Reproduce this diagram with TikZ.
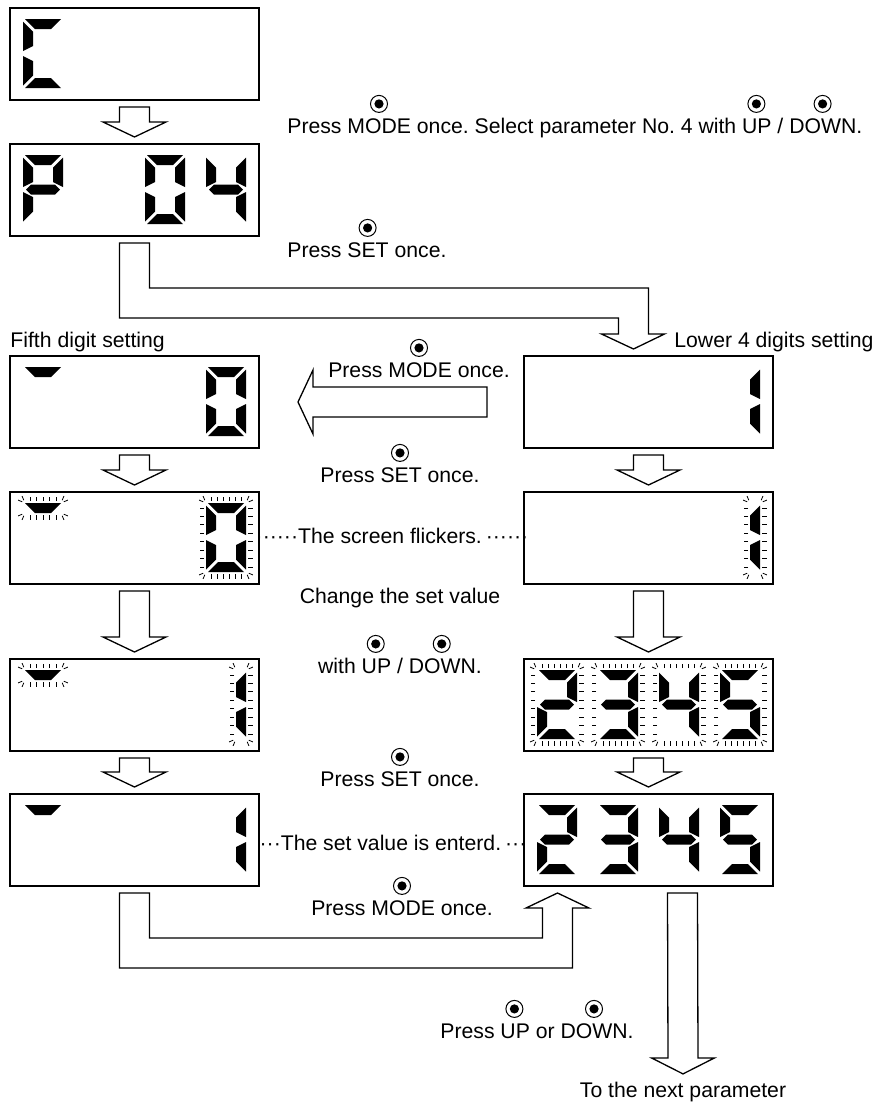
\documentclass[tikz,border=0pt]{standalone}
\usepackage{fontspec}
\setmainfont{Liberation Sans}
\usetikzlibrary{positioning, calc}
\frenchspacing

\newcommand{\sega}{(2,0) -- (38,0) -- (28,10) -- (12,10) -- cycle}
\newcommand{\segb}{(40,2.5) -- (30,12.5) -- (30,27) -- (40,32) -- cycle}
\newcommand{\segc}{(40,37) -- (30,42) -- (30,56.5) -- (40,66.5) -- cycle}
\newcommand{\segd}{(2,69) -- (38,69) -- (28,59) -- (12,59) -- cycle}
\newcommand{\sege}{(0,37) -- (10,42) -- (10,56.5) -- (0,66.5) -- cycle}
\newcommand{\segf}{(0,2.5) -- (10,12.5) -- (10,27) -- (0,32) -- cycle}
\newcommand{\segg}{(3,34.5) -- (8,29.5) -- (32,29.5) -- (37,34.5) -- (32,39.5) -- (8,39.5) -- cycle}

\newcommand{\lcddigit}[3]{%
  \begin{scope}[shift={($(#1.north west)+(13+61*#2,11)$)}]
    \foreach \s in {#3} {\expandafter\fill\csname seg\s\endcsname;}
  \end{scope}}

\newcommand{\flicker}[5]{%
  \begin{scope}[shift={($(#1.north west)+(#2,#3)$)}]
    \pgfmathtruncatemacro\nx{(#4-10)/6}
    \pgfmathtruncatemacro\ny{(#5-10)/8}
    \ifnum\nx>0
      \foreach \i in {0,...,\nx} {\pgfmathsetmacro\tx{5+(#4-10)*\i/\nx}
        \draw[tick] (\tx,-2) -- (\tx,-6.5) (\tx,#5+2) -- (\tx,#5+6.5);}
    \fi
    \ifnum\ny>0
      \foreach \j in {0,...,\ny} {\pgfmathsetmacro\ty{5+(#5-10)*\j/\ny}
        \draw[tick] (-2,\ty) -- (-6.5,\ty) (#4+2,\ty) -- (#4+6.5,\ty);}
    \fi
    \foreach \cx/\cy/\ang in {0/0/225,#4/0/315,0/#5/135,#4/#5/45}
      \foreach \da in {-22,22}
        \draw[tick] ($(\cx,\cy)+(\ang+\da:3)$) -- ($(\cx,\cy)+(\ang+\da:7.5)$);
  \end{scope}}

\newcommand{\blockdown}[2]{%
  \draw[hollow] ($(#1.south)+(-15,7)$) -- ($(#2.north)+(-15,-22)$) -- ++(-16.5,0)
    -- ($(#2.north)+(0,-7)$) -- ($(#2.north)+(31.5,-22)$) -- ++(-16.5,0)
    -- ($(#1.south)+(15,7)$) -- cycle;}

\begin{document}
\begin{tikzpicture}[x=0.5pt, y=-0.5pt, node distance=22pt,
    lcd/.style={rectangle, draw, line width=0.8pt, minimum width=124.5pt, minimum height=46pt, inner sep=0pt, outer sep=0pt},
    txt/.style={inner sep=0pt, font=\fontsize{10.6}{12.5}\selectfont, text height=7.7pt, text depth=2pt},
    btn/.style={circle, draw, line width=0.5pt, minimum size=8.5pt, inner sep=0pt, path picture={\fill (path picture bounding box.center) circle (2.3pt);}},
    hollow/.style={draw, fill=white, line width=0.65pt, line join=miter},
    tick/.style={line width=0.4pt}]

    \useasboundingbox (0,0) rectangle (878,1104);

    \node [lcd] (l1) at (134.5,54) {};
    \node [lcd, below=of l1] (l2) {};
    \node [lcd] (l3) at (134.5,402) {};
    \node [lcd, below=of l3] (l4) {};
    \node [lcd, below=37.5pt of l4] (l5) {};
    \node [lcd, below=21.5pt of l5] (l6) {};
    \node [lcd, right=132.5pt of l3] (r3) {};
    \node [lcd, right=132.5pt of l4] (r4) {};
    \node [lcd, right=132.5pt of l5] (r5) {};
    \node [lcd, right=132.5pt of l6] (r6) {};

    \lcddigit{l1}{0}{a,f,e,d}
    \lcddigit{l2}{0}{a,b,f,g,e}
    \lcddigit{l2}{2}{a,b,c,d,e,f}
    \lcddigit{l2}{3}{f,g,b,c}
    \lcddigit{l3}{0}{a}
    \lcddigit{l3}{3}{a,b,c,d,e,f}
    \lcddigit{l4}{0}{a}
    \lcddigit{l4}{3}{a,b,c,d,e,f}
    \lcddigit{l5}{0}{a}
    \lcddigit{l5}{3}{b,c}
    \lcddigit{l6}{0}{a}
    \lcddigit{l6}{3}{b,c}
    \lcddigit{r3}{3}{b,c}
    \lcddigit{r4}{3}{b,c}
    \foreach \n in {r5,r6} {
        \lcddigit{\n}{0}{a,b,g,e,d}
        \lcddigit{\n}{1}{a,b,g,c,d}
        \lcddigit{\n}{2}{f,g,b,c}
        \lcddigit{\n}{3}{a,f,g,c,d}
    }

    \flicker{l4}{15}{11}{36}{10}
    \flicker{l4}{196}{11}{40}{69}
    \flicker{r4}{226}{11}{10}{69}
    \flicker{l5}{15}{11}{36}{10}
    \flicker{l5}{226}{11}{10}{69}
    \foreach \p in {13,74,135,196} {\flicker{r5}{\p}{11}{40}{69}}

    \blockdown{l1}{l2}
    \blockdown{l3}{l4}
    \blockdown{l4}{l5}
    \blockdown{l5}{l6}
    \blockdown{r3}{r4}
    \blockdown{r4}{r5}
    \blockdown{r5}{r6}

    \draw [hollow] ($(l2.south)+(-15,7)$) |- ($(r3.north)+(-30,-38)$) -- ($(r3.north)+(-30,-22)$) -- ++(-17,0)
        -- ($(r3.north)+(-15,-7)$) -- ($(r3.north)+(16,-22)$) -- ++(-16,0) |- ($(l2.south)+(15,52)$)
        -- ($(l2.south)+(15,7)$) -- cycle;
    \draw [hollow] ($(r3.west)+(-37,-15)$) -- ($(l3.east)+(54,-15)$) -- ++(0,-17) -- ($(l3.east)+(39,0)$)
        -- ($(l3.east)+(54,32)$) -- ++(0,-17) -- ($(r3.west)+(-37,15)$) -- cycle;
    \draw [hollow] ($(l6.south)+(-15,7)$) |- ($(r6.south)+(-76,82)$) -- ($(r6.south)+(-76,22)$) -- ++(16.5,0)
        -- ($(r6.south)+(-91,7)$) -- ($(r6.south)+(-122.5,22)$) -- ++(16.5,0) |- ($(l6.south)+(15,52)$)
        -- ($(l6.south)+(15,7)$) -- cycle;

    \node [txt] (nextp) at (683,1092) {To the next parameter};
    \draw [hollow] ($(r6.south)+(19,7)$) -- ($(nextp.north)+(-15,-24)$) -- ++(-16.5,0) -- ($(nextp.north)+(0,-8)$)
        -- ($(nextp.north)+(31.5,-24)$) -- ++(-16.5,0) -- ($(r6.south)+(49,7)$) -- cycle;

    \node [txt, anchor=west] (t1) at (287,128) {Press MODE once. Select parameter No. 4 with UP / DOWN.};
    \node [txt, anchor=west] (t2) at (287,252) {Press SET once.};
    \node [txt, anchor=west] (fifth) at (10,342) {Fifth digit setting};
    \node [txt, anchor=west] (lower) at (674,342) {Lower 4 digits setting};
    \node [txt] (t3) at (419,372) {Press MODE once.};
    \node [txt] (t4) at (400,477) {Press SET once.};
    \node [txt] (flick) at (392,538) {······The screen flickers.\kern2pt······};
    \node [txt] (chg) at (400,598) {Change the set value};
    \node [txt] (with) at (400,668) {with UP / DOWN.};
    \node [txt] (t5) at (400,781) {Press SET once.};
    \node [txt] (enter) at (393,845) {···The set value is enterd.\kern2pt···};
    \node [txt] (t6) at (402,910) {Press MODE once.};
    \node [txt] (updown) at (537,1033) {Press UP or DOWN.};

    \node [btn, above=2.5pt of t1.north west, xshift=46pt] (b1) {};
    \node [btn, above=2.5pt of t1.north west, xshift=234.7pt] (b2) {};
    \node [btn, above=2.5pt of t1.north west, xshift=267.8pt] (b3) {};
    \node [btn, above=2.5pt of t2.north west, xshift=40.3pt] (b4) {};
    \node [btn, above=2.5pt of t3] (b5) {};
    \node [btn, above=2.5pt of t4] (b6) {};
    \node [btn, above=2.5pt of with.north west, xshift=29pt] (b7) {};
    \node [btn, above=2.5pt of with.north west, xshift=62pt] (b8) {};
    \node [btn, above=2.5pt of t5] (b9) {};
    \node [btn, above=2.5pt of t6] (b10) {};
    \node [btn, above=2.5pt of updown.north west, xshift=37.2pt] (b11) {};
    \node [btn, above=2.5pt of updown.north west, xshift=77pt] (b12) {};
\end{tikzpicture}
\end{document}
